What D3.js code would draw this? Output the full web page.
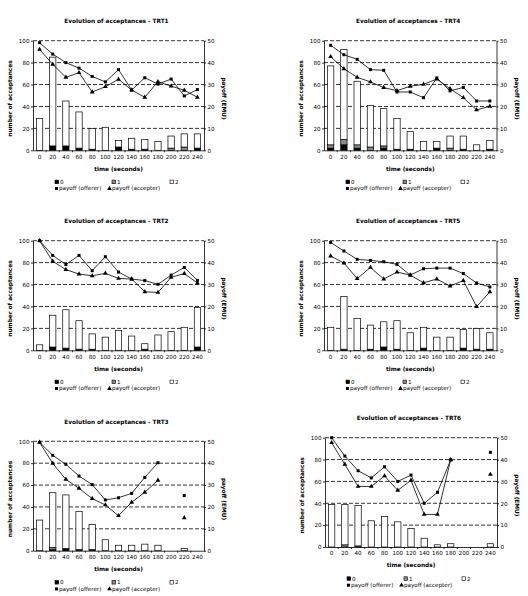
<!DOCTYPE html>
<html><head><meta charset="utf-8">
<script src="https://cdn.jsdelivr.net/npm/d3@7"></script>
<style>
body{margin:0;background:#fff}
svg{display:block}
text{font-family:"DejaVu Sans",Verdana,sans-serif;fill:#000}
</style>
</head><body>
<svg id="chart" width="528" height="596"></svg>
<script>
// ---------- DATA ----------
const times = [0,20,40,60,80,100,120,140,160,180,200,220,240];
const timeLabels = times.map(String);
const accTicks = [0,20,40,60,80,100];
const payTicks = [0,10,20,30,40,50];
const segmentKeys = ["0","1","2"];
const legendSeries = ["payoff (offerer)","payoff (accepter)"];

const trt1Zero = [0,4,4,2,1,0,3,1,1,0,0,0,2];
const trt1One  = [0,0,0,0,0,0,0,0,0,0,2,3,0];
const trt1Two  = [29,81,41,33,19,21,6,10,9,8,11,12,13];
const trt1Offerer  = [49.1,43.9,40,37.5,33.7,31.2,36.8,27.5,33.1,30.2,32.5,24.8,27.7];
const trt1Accepter = [46,39.2,33.3,35.4,26.6,29,32.4,27.5,24.2,31.3,29.3,27.4,24.2];

const trt4Zero = [2,5,2,0,2,1,1,0,2,0,1,0,1];
const trt4One  = [3,5,3,3,2,0,0,0,0,2,0,0,0];
const trt4Two  = [72,82,58,38,34,28,16,8,6,11,12,5,8];
const trt4Offerer  = [47.9,43.6,41.5,36.8,36.5,26.6,26.6,24,33,27.1,28.7,22.5,22.5];
const trt4Accepter = [42.7,37.2,33.3,31.2,28.6,27.2,29.2,30.1,32.5,28.1,24,18.4,20.1];

const trt2Zero = [0,3,2,1,1,0,0,0,1,0,0,0,3];
const trt2One  = [0,0,0,0,0,0,0,0,0,0,0,0,0];
const trt2Two  = [5,29,35,26,14,12,18,13,5,14,17,21,36];
const trt2Offerer  = [50,43.3,39.1,43.3,36.3,42.7,35.7,32.5,31.8,30.1,34.3,37.8,31.9];
const trt2Accepter = [50,40.6,36.8,34.8,34,35.1,32.8,32.5,26.7,26.4,33.3,35,30.7];

const trt5Zero = [0,1,0,1,3,1,0,2,0,0,2,1,1];
const trt5One  = [0,0,0,0,0,0,0,0,0,0,0,0,0];
const trt5Two  = [21,48,29,22,23,26,16,19,12,12,17,19,15];
const trt5Offerer  = [49.2,45.3,41.5,41,40.4,39.2,34.3,37.2,37.5,37.5,35,30.7,28.9];
const trt5Accepter = [43,39.8,32.7,37.8,32.5,35.7,34.3,30.8,32.5,29.3,31.8,19.9,26.7];

const trt3Zero = [0,1,2,1,1,0,0,0,0,0,0,0,0];
const trt3One  = [0,2,0,0,0,0,0,0,0,0,0,0,0];
const trt3Two  = [28,50,49,35,23,10,5,5,6,5,0,2,0];
const trt3Offerer  = [49.5,43.6,39.5,34.1,30.2,23.2,24.2,26.2,33.5,40.2,null,25.2,null];
const trt3Accepter = [49.5,39.9,32.6,28.5,23.8,20.9,16,22.1,26.7,32.2,null,15,null];

const trt6Zero = [0,0,0,0,0,0,0,0,0,0,0,0,0];
const trt6One  = [0,2,1,0,0,0,0,0,0,0,0,0,0];
const trt6Two  = [39,37,37,24,28,23,17,8,2,3,0,0,3];
const trt6Offerer  = [50,41.6,34.9,31.6,36.7,30,32.9,20,25,39.9,null,null,43.3];
const trt6Accepter = [47.7,37.8,27.7,27.7,32.5,25.9,30.5,14.9,14.9,39.9,null,null,33.2];

const panelData = [
  {title:"Evolution of acceptances - TRT1", zero:trt1Zero, one:trt1One, two:trt1Two, off:trt1Offerer, acc:trt1Accepter},
  {title:"Evolution of acceptances - TRT4", zero:trt4Zero, one:trt4One, two:trt4Two, off:trt4Offerer, acc:trt4Accepter},
  {title:"Evolution of acceptances - TRT2", zero:trt2Zero, one:trt2One, two:trt2Two, off:trt2Offerer, acc:trt2Accepter},
  {title:"Evolution of acceptances - TRT5", zero:trt5Zero, one:trt5One, two:trt5Two, off:trt5Offerer, acc:trt5Accepter},
  {title:"Evolution of acceptances - TRT3", zero:trt3Zero, one:trt3One, two:trt3Two, off:trt3Offerer, acc:trt3Accepter},
  {title:"Evolution of acceptances - TRT6", zero:trt6Zero, one:trt6One, two:trt6Two, off:trt6Offerer, acc:trt6Accepter}
];

// ---------- LAYOUT ----------
const layout = [
  {left:33,  top:40.7,  width:171,   height:109.6},
  {left:324, top:40.7,  width:172.5, height:109.6},
  {left:33,  top:240.7, width:171,   height:109.6},
  {left:324, top:240.7, width:172.5, height:109.6},
  {left:33,  top:441.3, width:171,   height:109.4},
  {left:325, top:437.7, width:172,   height:109.3}
];
const segFill = {"0":"#000","1":"#8a8a8a","2":"#fff"};
const FS = 5.6;

const svg = d3.select("#chart");

panelData.forEach((p, idx) => {
  const L = layout[idx];
  const w = L.width, h = L.height;
  const g = svg.append("g").attr("transform", `translate(${L.left},${L.top})`);

  const x = d3.scaleBand().domain(times).range([0, w]).paddingInner(0.52).paddingOuter(0.26);
  const yL = d3.scaleLinear().domain([0,100]).range([h,0]);
  const yR = d3.scaleLinear().domain([0,50]).range([h,0]);

  // gridlines
  g.selectAll("line.grid").data(accTicks.filter(v => v > 0)).join("line")
    .attr("x1",0).attr("x2",w)
    .attr("y1",d=>yL(d)).attr("y2",d=>yL(d))
    .attr("stroke","#000").attr("stroke-width",0.8).attr("stroke-dasharray","4,2");

  // stacked bars
  const rows = times.map((t,i) => ({t, "0":p.zero[i], "1":p.one[i], "2":p.two[i]}));
  const stacked = d3.stack().keys(segmentKeys)(rows);
  stacked.forEach(layer => {
    g.append("g").selectAll("rect").data(layer.filter(d => d[1]-d[0] > 0)).join("rect")
      .attr("x", d => x(d.data.t))
      .attr("width", x.bandwidth())
      .attr("y", d => yL(d[1]))
      .attr("height", d => yL(d[0]) - yL(d[1]))
      .attr("fill", segFill[layer.key])
      .attr("stroke", "#000").attr("stroke-width", 0.7);
  });

  // left axis
  const ax = g.append("g").call(d3.axisLeft(yL).tickValues(accTicks).tickSize(2).tickSizeOuter(0).tickPadding(1.5));
  // right axis
  const ar = g.append("g").attr("transform",`translate(${w},0)`)
    .call(d3.axisRight(yR).tickValues(payTicks).tickSize(2).tickSizeOuter(0).tickPadding(1.5));
  // bottom axis
  const ab = g.append("g").attr("transform",`translate(0,${h})`)
    .call(d3.axisBottom(x).tickFormat((d,i)=>timeLabels[i]).tickSize(0).tickSizeOuter(0).tickPadding(4.5));
  [ax,ar,ab].forEach(a => {
    a.selectAll("text").attr("font-size",FS).attr("font-family","DejaVu Sans, Verdana, sans-serif").attr("fill","#000");
    a.selectAll("path,line").attr("stroke","#000").attr("stroke-width",0.8);
  });
  // bottom boundary ticks
  const gap = (x.step() - x.bandwidth())/2;
  const bounds = times.slice(1).map(t => x(t) - gap);
  g.selectAll("line.bt").data(bounds).join("line")
    .attr("x1",d=>d).attr("x2",d=>d).attr("y1",h).attr("y2",h+2)
    .attr("stroke","#000").attr("stroke-width",0.8);

  // payoff lines
  const cx = t => x(t) + x.bandwidth()/2;
  const line = d3.line().defined(d => d.v != null).x(d => cx(d.t)).y(d => yR(d.v));
  const offPts = times.map((t,i)=>({t, v:p.off[i]}));
  const accPts = times.map((t,i)=>({t, v:p.acc[i]}));
  [offPts, accPts].forEach(pts => {
    g.append("path").datum(pts).attr("d", line).attr("fill","none")
      .attr("stroke","#000").attr("stroke-width",0.8);
  });
  const sq = d3.symbol(d3.symbolSquare, 9)();
  const tri = d3.symbol(d3.symbolTriangle, 10)();
  g.selectAll("path.off").data(offPts.filter(d=>d.v!=null)).join("path")
    .attr("d", sq).attr("transform", d=>`translate(${cx(d.t)},${yR(d.v)})`).attr("fill","#000");
  g.selectAll("path.acc").data(accPts.filter(d=>d.v!=null)).join("path")
    .attr("d", tri).attr("transform", d=>`translate(${cx(d.t)},${yR(d.v)})`).attr("fill","#000");

  // title
  g.append("text").attr("x", w/2 - 2).attr("y", -17.5).attr("text-anchor","middle")
    .attr("font-size",5.8).attr("font-weight","bold").text(p.title);
  // axis titles
  g.append("text").attr("x", w/2).attr("y", h + 20.5).attr("text-anchor","middle")
    .attr("font-size",5.8).attr("font-weight","bold").text("time (seconds)");
  g.append("text").attr("transform",`translate(-21,${h/2+3}) rotate(-90)`).attr("text-anchor","middle")
    .attr("font-size",5.8).attr("font-weight","bold").text("number of acceptances");
  g.append("text").attr("transform",`translate(${w+18},${h/2+3}) rotate(90)`).attr("text-anchor","middle")
    .attr("font-size",5.8).attr("font-weight","bold").text("payoff (EMU)");

  // legend
  const lg = g.append("g").attr("transform",`translate(0,${h})`);
  const itemX = [22, 79, 137];
  segmentKeys.forEach((k,i) => {
    lg.append("rect").attr("x", itemX[i]).attr("y", 29.8).attr("width",3.6).attr("height",3.6)
      .attr("fill", segFill[k]).attr("stroke","#000").attr("stroke-width",0.6);
    lg.append("text").attr("x", itemX[i]+5).attr("y", 33.6).attr("font-size",FS).text(k);
  });
  const serX = [22, 75];
  legendSeries.forEach((s,i) => {
    lg.append("path").attr("d", i===0 ? sq : tri).attr("transform",`translate(${serX[i]+1.5},${38.2})`).attr("fill","#000");
    lg.append("text").attr("x", serX[i]+4).attr("y", 40.2).attr("font-size",FS).text(s);
  });
});
</script>
</body></html>
